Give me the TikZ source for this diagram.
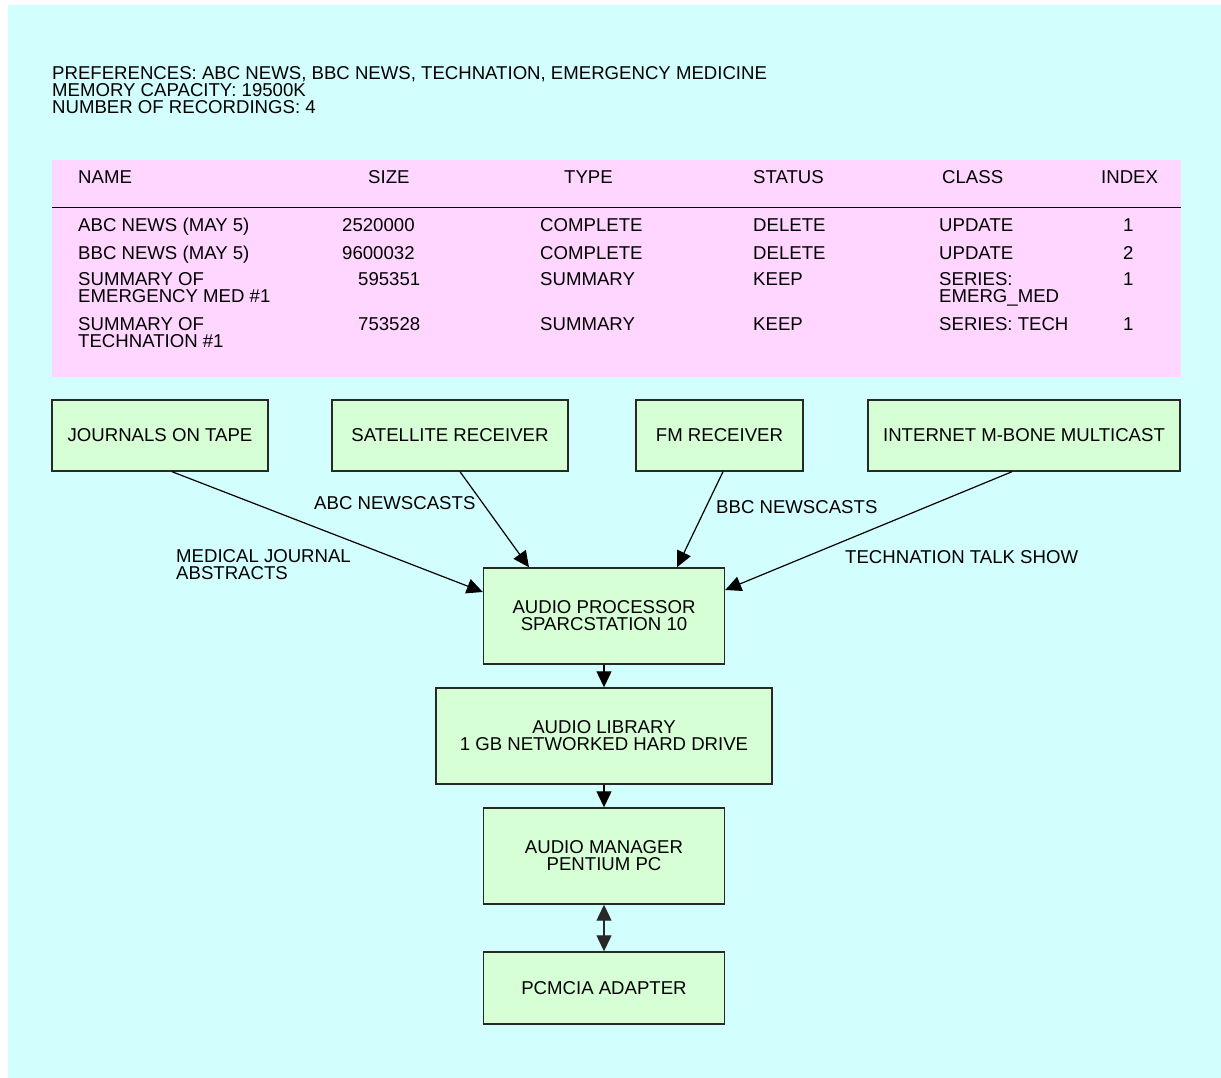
\documentclass[tikz,border=0pt]{standalone}
\usepackage{fontspec}
\setmainfont{Liberation Sans}
\usepackage{tikz}
\usetikzlibrary{arrows.meta}
\definecolor{bgcolor}{RGB}{210,254,254}
\definecolor{tablecolor}{RGB}{255,214,255}
\definecolor{boxcolor}{RGB}{214,255,214}
\definecolor{edgecolor}{RGB}{40,40,40}
\newcommand{\diafont}{\fontsize{18.6pt}{17pt}\selectfont}
\tikzset{
    unit box/.style={rectangle, draw=edgecolor, line width=1.4pt, fill=boxcolor, align=center, font=\diafont, inner sep=0pt},
    cell/.style={anchor=base west, inner sep=0pt, align=left, font=\diafont},
    rule/.style={line width=1.3pt, black},
    feed/.style={-{Triangle[length=16pt, width=15pt]}, line width=1.2pt, black},
    both feed/.style={{Triangle[length=16pt, width=15pt]}-{Triangle[length=16pt, width=15pt]}, line width=1.2pt, edgecolor}
}

\begin{document}
\begin{tikzpicture}[x=1pt, y=-1pt]
    \useasboundingbox (0,0) rectangle (1221,1078);
    % Background
    \fill[bgcolor] (8,5) rectangle (1221,1078);

    % Preferences
    \node[cell, anchor=north west] (prefs) at (52,66) {PREFERENCES: ABC NEWS, BBC NEWS, TECHNATION, EMERGENCY MEDICINE\\MEMORY CAPACITY: 19500K\\NUMBER OF RECORDINGS: 4};

    % Recordings table
    \node[fill=tablecolor, minimum width=1129pt, minimum height=217pt, inner sep=0pt] (tbl) at (616.5,268.5) {};
    \draw[rule] ([yshift=-48pt]tbl.north west) -- ([yshift=-48pt]tbl.north east);

    \node[cell] (hname) at (78,184) {NAME};
    \node[cell] (hsize) at (368,184) {SIZE};
    \node[cell] (htype) at (564,184) {TYPE};
    \node[cell] (hstatus) at (753,184) {STATUS};
    \node[cell] (hclass) at (942,184) {CLASS};
    \node[cell] (hindex) at (1101,184) {INDEX};

    \node[cell] (name1) at (78,232) {ABC NEWS (MAY 5)};
    \node[cell] (size1) at (342,232) {2520000};
    \node[cell] (type1) at (540,232) {COMPLETE};
    \node[cell] (status1) at (753,232) {DELETE};
    \node[cell] (class1) at (939,232) {UPDATE};
    \node[cell] (index1) at (1123,232) {1};

    \node[cell] (name2) at (78,259) {BBC NEWS (MAY 5)};
    \node[cell] (size2) at (342,259) {9600032};
    \node[cell] (type2) at (540,259) {COMPLETE};
    \node[cell] (status2) at (753,259) {DELETE};
    \node[cell] (class2) at (939,259) {UPDATE};
    \node[cell] (index2) at (1123,259) {2};

    % two-line cells sit on their last line
    \node[cell] (name3) at (78,302) {SUMMARY OF\\EMERGENCY MED \#1};
    \node[cell] (size3) at (358,285) {595351};
    \node[cell] (type3) at (540,285) {SUMMARY};
    \node[cell] (status3) at (753,285) {KEEP};
    \node[cell] (class3) at (939,302) {SERIES:\\EMERG\_MED};
    \node[cell] (index3) at (1123,285) {1};

    \node[cell] (name4) at (78,347) {SUMMARY OF\\TECHNATION \#1};
    \node[cell] (size4) at (358,330) {753528};
    \node[cell] (type4) at (540,330) {SUMMARY};
    \node[cell] (status4) at (753,330) {KEEP};
    \node[cell] (class4) at (939,330) {SERIES: TECH};
    \node[cell] (index4) at (1123,330) {1};

    % Sources
    \node[unit box, minimum width=216pt, minimum height=71pt] (journals) at (160,435.5) {JOURNALS ON TAPE};
    \node[unit box, minimum width=236pt, minimum height=71pt] (satellite) at (450,435.5) {SATELLITE RECEIVER};
    \node[unit box, minimum width=167pt, minimum height=71pt] (fm) at (719.5,435.5) {FM RECEIVER};
    \node[unit box, minimum width=312pt, minimum height=71pt] (internet) at (1024,435.5) {INTERNET M-BONE MULTICAST};

    % Processing chain
    \node[unit box, minimum width=241pt, minimum height=96pt] (proc) at (604,616) {AUDIO PROCESSOR\\SPARCSTATION 10};
    \node[unit box, minimum width=336pt, minimum height=96pt] (library) at (604,736) {AUDIO LIBRARY\\1 GB NETWORKED HARD DRIVE};
    \node[unit box, minimum width=241pt, minimum height=96pt] (manager) at (604,856) {AUDIO MANAGER\\PENTIUM PC};
    \node[unit box, minimum width=241pt, minimum height=72pt] (pcmcia) at (604,988) {PCMCIA ADAPTER};

    % Feeds into the processor
    \draw[feed] ([xshift=12pt]journals.south) -- ([yshift=24pt]proc.west);
    \draw[feed] ([xshift=10pt]satellite.south) -- ([xshift=-75pt]proc.north);
    \draw[feed] ([xshift=3.5pt]fm.south) -- ([xshift=73pt]proc.north);
    \draw[feed] ([xshift=-12pt]internet.south) -- ([yshift=26pt]proc.east);

    \draw[feed] (proc) -- (library);
    \draw[feed] (library) -- (manager);
    \draw[both feed] (manager) -- (pcmcia);

    % Feed labels
    \node[cell] (abclabel) at (314,509) {ABC NEWSCASTS};
    \node[cell] (medlabel) at (176,579) {MEDICAL JOURNAL\\ABSTRACTS};
    \node[cell] (bbclabel) at (716,513) {BBC NEWSCASTS};
    \node[cell] (techlabel) at (845,563) {TECHNATION TALK SHOW};
\end{tikzpicture}
\end{document}
